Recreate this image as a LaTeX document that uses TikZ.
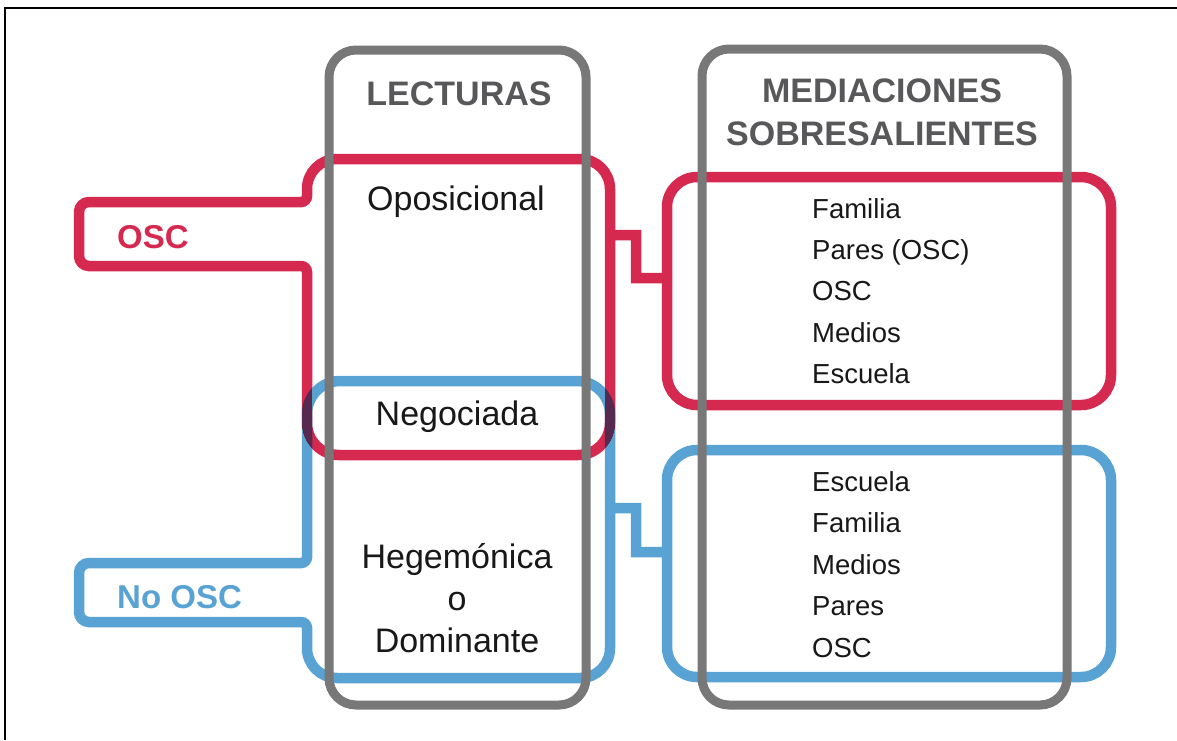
\documentclass[tikz,border=0pt]{standalone}
\usepackage{fontspec}
\setmainfont{Liberation Sans}
\definecolor{cred}{RGB}{214,41,80}
\definecolor{cblue}{RGB}{88,163,212}
\definecolor{cgray}{RGB}{120,120,120}
\definecolor{chead}{RGB}{88,88,90}
\definecolor{ctext}{RGB}{24,24,24}
\begin{document}
\begin{tikzpicture}[x=1pt,y=-1pt,
  redline/.style={draw=cred,line width=10.5pt,blend mode=darken},
  blueline/.style={draw=cblue,line width=10.5pt,blend mode=darken},
  grayline/.style={draw=cgray,line width=9pt,rounded corners=27},
  headtxt/.style={inner sep=0pt,text=chead,font=\fontsize{34}{43}\selectfont\bfseries},
  maintxt/.style={inner sep=0pt,anchor=base,text=ctext,font=\fontsize{34}{42}\selectfont},
  listtxt/.style={inner sep=0pt,anchor=base west,text=ctext,font=\fontsize{27.5}{33}\selectfont},
  tabtxt/.style={inner sep=0pt,anchor=base west,font=\fontsize{33}{40}\selectfont\bfseries}]
\useasboundingbox (0,0) rectangle (1177,740);
\fill[white] (0,0) rectangle (1177,740);
\draw[line width=2pt] (5,740) -- (5,8) -- (1177,8);

% red group: left shape with OSC tab, step connector, right box (one stroke)
\coordinate (rA) at (610,235);
\coordinate (rB) at (667,278);
\draw[redline]
  (610,300) -- (610,189) .. controls (610,172.4) and (596.6,159) .. (580,159)
  -- (337,159) .. controls (320.4,159) and (307,172.4) .. (307,189)
  -- (307,196) .. controls (307,199.3) and (304.3,202) .. (301,202)
  -- (89,202) .. controls (83.5,202) and (79,206.5) .. (79,212)
  -- (79,256) .. controls (79,261.5) and (83.5,266) .. (89,266)
  -- (301,266) .. controls (304.3,266) and (307,268.7) .. (307,272)
  -- (307,423) .. controls (307,440.7) and (321.3,455) .. (339,455)
  -- (578,455) .. controls (595.7,455) and (610,440.7) .. (610,423)
  -- cycle
  (rA) -- (636,235) -- (636,278) -- (rB)
  [rounded corners=30] (667,177) rectangle (1111,405);

% blue group
\coordinate (bA) at (610,508);
\coordinate (bB) at (667,552);
\draw[blueline]
  (610,560) -- (610,414) .. controls (610,395.8) and (595.2,381) .. (577,381)
  -- (340,381) .. controls (321.8,381) and (307,395.8) .. (307,414)
  -- (307,557) .. controls (307,560.3) and (304.3,563) .. (301,563)
  -- (89,563) .. controls (83.5,563) and (79,567.5) .. (79,573)
  -- (79,612) .. controls (79,617.5) and (83.5,622) .. (89,622)
  -- (301,622) .. controls (304.3,622) and (307,624.7) .. (307,628)
  -- (307,648) .. controls (307,664.6) and (320.4,678) .. (337,678)
  -- (580,678) .. controls (596.6,678) and (610,664.6) .. (610,648)
  -- cycle
  (bA) -- (636,508) -- (636,552) -- (bB)
  [rounded corners=30] (667,450) rectangle (1111,677);

% gray columns
\draw[grayline] (329,50) rectangle (586,705);
\draw[grayline] (702,49) rectangle (1067,705);

% headers
\node[headtxt,anchor=base] (lect) at (459,105) {LECTURAS};
\node[headtxt,anchor=base] (med1) at (882,102) {MEDIACIONES};
\node[headtxt,anchor=base] (med2) at (882,145) {SOBRESALIENTES};

% readings
\node[maintxt] (opo) at (456,210) {Oposicional};
\node[maintxt] (neg) at (457,425) {Negociada};
\node[maintxt] (heg) at (457,568) {Hegemónica};
\node[maintxt] (oo) at (457,610) {o};
\node[maintxt] (dom) at (457,652) {Dominante};

% tabs
\node[tabtxt,text=cred] (osc) at (117,248) {OSC};
\node[tabtxt,text=cblue] (nosc) at (117,608) {No OSC};

% red list
\node[listtxt] (r1) at (812,218) {Familia};
\node[listtxt] (r2) at (812,259.5) {Pares (OSC)};
\node[listtxt] (r3) at (812,300.5) {OSC};
\node[listtxt] (r4) at (812,342) {Medios};
\node[listtxt] (r5) at (812,383) {Escuela};

% blue list
\node[listtxt] (b1) at (812,491) {Escuela};
\node[listtxt] (b2) at (812,532.5) {Familia};
\node[listtxt] (b3) at (812,574) {Medios};
\node[listtxt] (b4) at (812,615) {Pares};
\node[listtxt] (b5) at (812,657) {OSC};
\end{tikzpicture}
\end{document}
